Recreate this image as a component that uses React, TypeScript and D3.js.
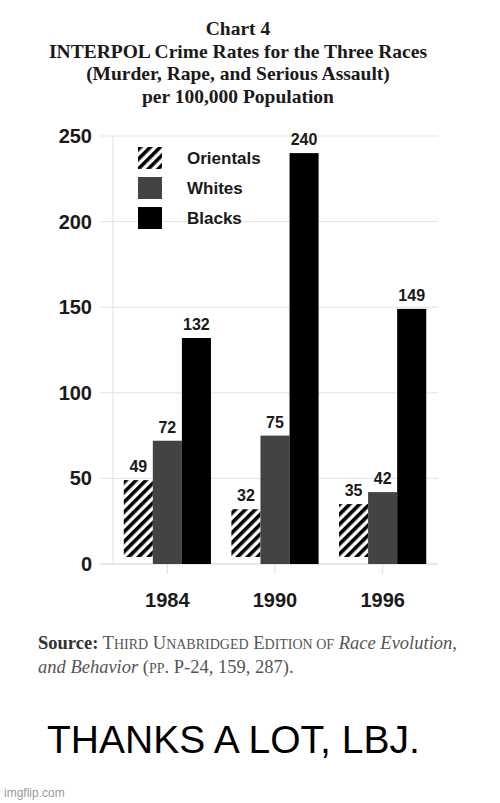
import React from 'react';
import * as d3 from 'd3';

const years = ['1984', '1990', '1996'];
const races = ['Orientals', 'Whites', 'Blacks'];
const orientals = [49, 32, 35];
const whites = [72, 75, 42];
const blacks = [132, 240, 149];
const yTicks = [0, 50, 100, 150, 200, 250];

const titleLines = [
  'Chart 4',
  'INTERPOL Crime Rates for the Three Races',
  '(Murder, Rape, and Serious Assault)',
  'per 100,000 Population',
];

const W = 500;
const H = 803;
const plot = { left: 113, right: 437, top: 136, bottom: 564 };

export default function App() {
  const series = [orientals, whites, blacks];
  const fills = ['url(#hatch)', '#434343', '#000000'];

  const x = d3.scaleBand().domain(years).range([plot.left, plot.right]).paddingInner(0.19).paddingOuter(0.1);
  const xs = d3.scaleBand().domain(races).range([0, x.bandwidth()]);
  const y = d3.scaleLinear().domain([0, 250]).range([plot.bottom, plot.top]);

  const sans = 'Liberation Sans, Arial, sans-serif';
  const serif = 'Liberation Serif, Times New Roman, serif';

  return (
    <svg width={W} height={H} style={{ position: 'absolute', left: 0, top: 0, background: '#fff' }}>
      <defs>
        <pattern id="hatch" width="7" height="7" patternUnits="userSpaceOnUse" patternTransform="rotate(45)">
          <rect width="7" height="7" fill="#fff" />
          <rect width="3.6" height="7" fill="#000" />
        </pattern>
      </defs>
      <rect width={W} height={H} fill="#fff" />

      {/* title */}
      <g fontFamily={serif} fontWeight="bold" fontSize="19.5" fill="#1a1a1a" textAnchor="middle">
        {titleLines.map((t, i) => (
          <text key={t} x={238} y={35 + i * 22.6}>{t}</text>
        ))}
      </g>

      {/* grid */}
      <g stroke="#dcdcdc" strokeWidth="1">
        {yTicks.map(t => (
          <line key={t} x1={100} x2={438} y1={y(t)} y2={y(t)} stroke={t === 0 ? '#cfcfcf' : '#e2e2e2'} />
        ))}
        <line x1={plot.left} x2={plot.left} y1={y(250)} y2={y(0)} stroke="#e0e0e0" />
        {years.map(yr => {
          const cx = (x(yr) || 0) + x.bandwidth() / 2;
          return <line key={yr} x1={cx} x2={cx} y1={y(0)} y2={y(0) + 10} stroke="#e0e0e0" />;
        })}
      </g>

      {/* y tick labels */}
      <g fontFamily={sans} fontWeight="bold" fontSize="20" fill="#1a1a1a" textAnchor="end">
        {yTicks.map(t => (
          <text key={t} x={92} y={y(t) + 7}>{t}</text>
        ))}
      </g>

      {/* bars */}
      {series.map((vals, si) => (
        <g key={races[si]}>
          {vals.map((v, i) => {
            const bx = (x(years[i]) || 0) + (xs(races[si]) || 0);
            const bottom = si === 0 ? y(0) - 7 : y(0);
            return (
              <g key={years[i]}>
                <rect x={bx} y={y(v)} width={xs.bandwidth()} height={bottom - y(v)} fill={fills[si]} />
                <text
                  x={bx + xs.bandwidth() / 2}
                  y={y(v) - 8}
                  textAnchor="middle"
                  fontFamily={sans}
                  fontWeight="bold"
                  fontSize="16"
                  fill="#1a1a1a"
                >
                  {v}
                </text>
              </g>
            );
          })}
        </g>
      ))}

      {/* x labels */}
      <g fontFamily={sans} fontWeight="bold" fontSize="20" fill="#1a1a1a" textAnchor="middle">
        {years.map(yr => (
          <text key={yr} x={(x(yr) || 0) + x.bandwidth() / 2} y={607}>{yr}</text>
        ))}
      </g>

      {/* legend */}
      <g>
        {races.map((r, i) => (
          <g key={r} transform={`translate(138,${147 + i * 30})`}>
            <rect width={24} height={22} fill={fills[i]} />
            <text x={49} y={17} fontFamily={sans} fontWeight="bold" fontSize="17" fill="#1a1a1a">{r}</text>
          </g>
        ))}
      </g>

      {/* source */}
      <g fontFamily={serif} fontSize="18.5" fill="#555">
        <text x={38} y={649}>
          <tspan fontWeight="bold" fill="#333">Source:</tspan>
          <tspan> T</tspan><tspan fontSize="14">HIRD</tspan>
          <tspan> U</tspan><tspan fontSize="14">NABRIDGED</tspan>
          <tspan> E</tspan><tspan fontSize="14">DITION OF</tspan>
          <tspan fontStyle="italic"> Race Evolution,</tspan>
        </text>
        <text x={38} y={673}>
          <tspan fontStyle="italic">and Behavior</tspan>
          <tspan> (</tspan><tspan fontSize="14">PP</tspan><tspan>. P-24, 159, 287).</tspan>
        </text>
      </g>

      <text x={47} y={753} fontFamily={sans} fontSize="39" fill="#000">THANKS A LOT, LBJ.</text>
      <text x={4} y={797} fontFamily={sans} fontSize="12" fill="#9a9a9a">imgflip.com</text>
    </svg>
  );
}
